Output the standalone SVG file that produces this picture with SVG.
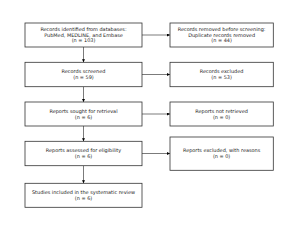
<svg xmlns="http://www.w3.org/2000/svg" width="300" height="237" viewBox="0 0 300 237">
<defs>
<marker id="ah" viewBox="0 0 10 10" refX="10" refY="5" markerWidth="3" markerHeight="3" orient="auto" markerUnits="userSpaceOnUse">
<path d="M0,0 L10,5 L0,10 z" fill="#000"/>
</marker>
<style>
.box{fill:#fff;stroke:#333;stroke-width:0.8}
.t{font-family:"DejaVu Sans",sans-serif;font-size:4.95px;fill:#222;text-anchor:middle}
.c{fill:none;stroke:#222;stroke-width:0.6;marker-end:url(#ah)}
</style>
</defs>
<rect width="300" height="237" fill="#fff"/>
<g id="connectors">
<line class="c" x1="83.5" y1="47" x2="83.5" y2="62.3"/>
<line class="c" x1="83.5" y1="86.7" x2="83.5" y2="102"/>
<line class="c" x1="83.5" y1="126" x2="83.5" y2="141.3"/>
<line class="c" x1="83.5" y1="165.7" x2="83.5" y2="183.3"/>
<line class="c" x1="142" y1="35" x2="170" y2="35"/>
<line class="c" x1="142" y1="74.5" x2="170" y2="74.5"/>
<line class="c" x1="142" y1="114" x2="170" y2="114"/>
<line class="c" x1="142" y1="153.5" x2="170" y2="153.5"/>
</g>
<g id="n1"><rect class="box" x="25" y="23" width="117" height="24"/>
<text class="t" x="83.5" y="30.9">Records identified from databases:</text>
<text class="t" x="83.5" y="36.5">PubMed, MEDLINE, and Embase</text>
<text class="t" x="83.5" y="42.1">(n = 103)</text></g>
<g id="n2"><rect class="box" x="25" y="62.3" width="117" height="24.4"/>
<text class="t" x="83.5" y="73.4">Records screened</text>
<text class="t" x="83.5" y="79">(n = 59)</text></g>
<g id="n3"><rect class="box" x="25" y="102" width="117" height="24"/>
<text class="t" x="83.5" y="112.9">Reports sought for retrieval</text>
<text class="t" x="83.5" y="118.5">(n = 6)</text></g>
<g id="n4"><rect class="box" x="25" y="141.3" width="117" height="24.4"/>
<text class="t" x="83.5" y="152.4">Reports assessed for eligibility</text>
<text class="t" x="83.5" y="158">(n = 6)</text></g>
<g id="n5"><rect class="box" x="25" y="183.3" width="117" height="24"/>
<text class="t" x="83.5" y="194.1">Studies included in the systematic review</text>
<text class="t" x="83.5" y="199.7">(n = 6)</text></g>
<g id="r1"><rect class="box" x="170" y="23" width="103.3" height="24"/>
<text class="t" x="221.6" y="30.9">Records removed before screening:</text>
<text class="t" x="221.6" y="36.5">Duplicate records removed</text>
<text class="t" x="221.6" y="42.1">(n = 44)</text></g>
<g id="r2"><rect class="box" x="170" y="62.3" width="103.3" height="24.4"/>
<text class="t" x="221.6" y="73.4">Records excluded</text>
<text class="t" x="221.6" y="79">(n = 53)</text></g>
<g id="r3"><rect class="box" x="170" y="102" width="103.3" height="24"/>
<text class="t" x="221.6" y="112.9">Reports not retrieved</text>
<text class="t" x="221.6" y="118.5">(n = 0)</text></g>
<g id="r4"><rect class="box" x="170" y="137" width="103.3" height="33.3"/>
<text class="t" x="221.6" y="152.4">Reports excluded, with reasons</text>
<text class="t" x="221.6" y="158">(n = 0)</text></g>
</svg>
